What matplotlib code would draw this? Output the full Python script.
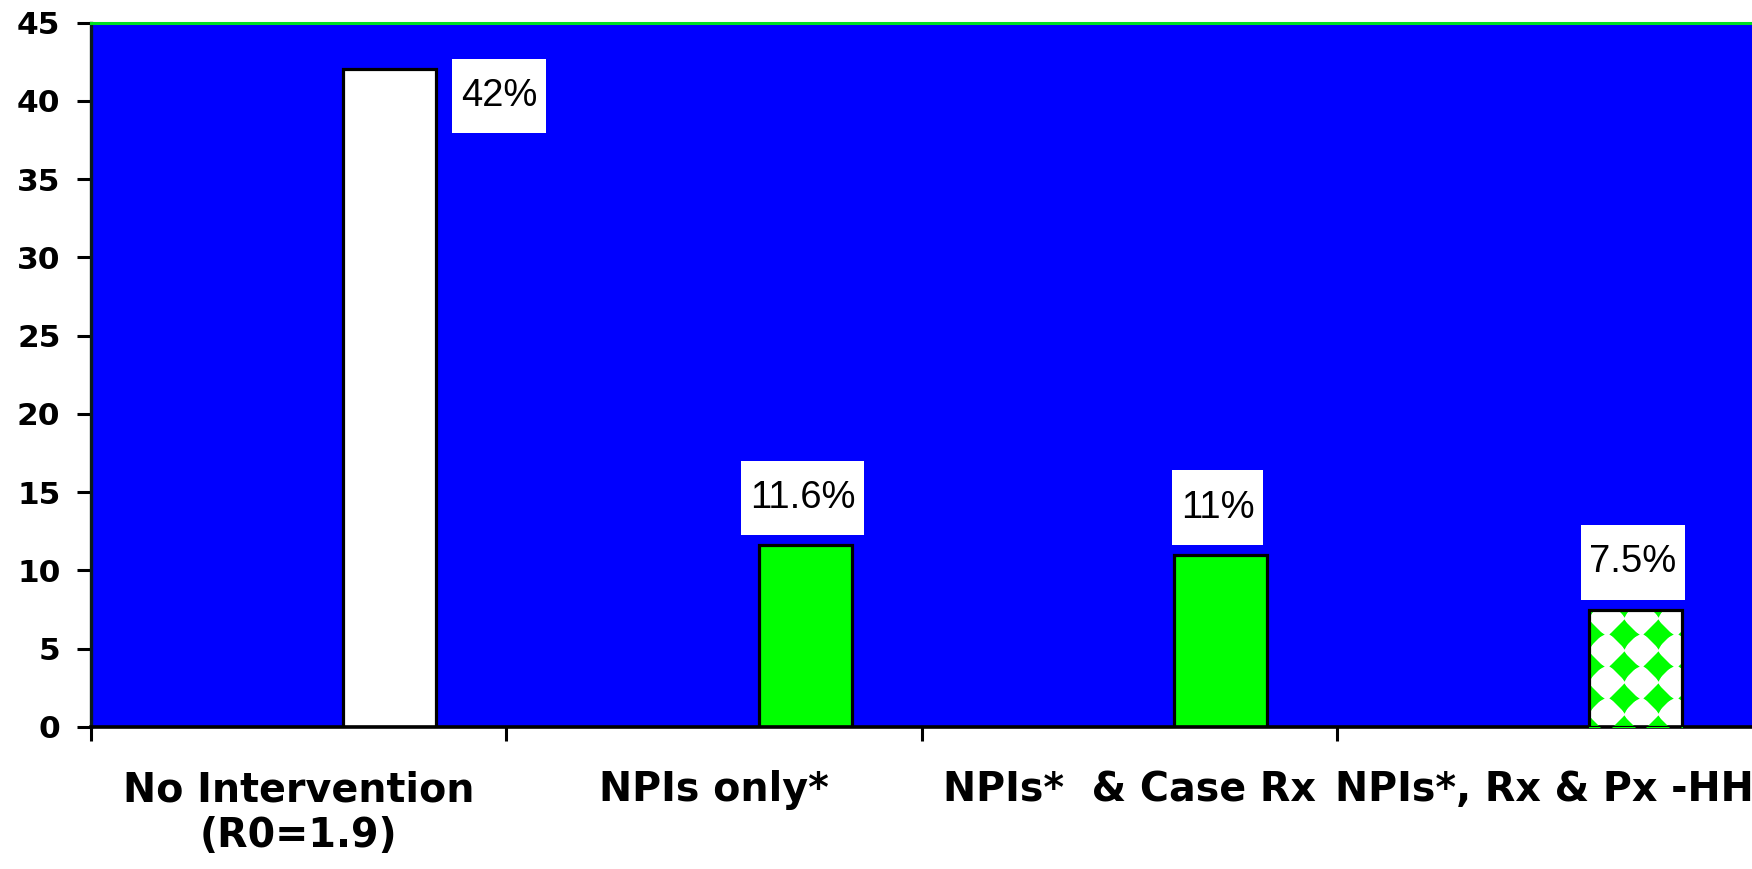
import matplotlib
matplotlib.use("Agg")
import matplotlib.pyplot as plt
import numpy as np

# Attack rate (%) for each intervention strategy
categories = [
    "No Intervention\n(R0=1.9)",
    "NPIs only*",
    "NPIs*  & Case Rx",
    "NPIs*, Rx & Px -HH",
]
attack_rates = [42, 11.6, 11, 7.5]
rate_labels = ["42%", "11.6%", "11%", "7.5%"]
bar_colors = ["white", "#00ff00", "#00ff00", "white"]

fig = plt.figure(figsize=(17.52, 8.69), dpi=100)
ax = fig.add_axes([91 / 1752, 1 - 727 / 869, 1 - 91 / 1752, (727 - 22.5) / 869])
ax.set_facecolor("#0000ff")

x = np.arange(len(categories))
bar_x = x + 0.22
bar_w = 0.224

bars = ax.bar(bar_x, attack_rates, width=bar_w, color=bar_colors,
              edgecolor="none", zorder=2)

# diamond pattern inside the last bar
last = bars[-1]
left = last.get_x()
cols = left + np.arange(4) * 0.083
rows = np.arange(-0.19, attack_rates[-1] + 2.5, 2.04)
px, py = np.meshgrid(cols, rows)
for marker, size in [((4, 1, 0), 22), ("D", 14)]:
    pts = ax.plot(px.ravel(), py.ravel(), linestyle="none", marker=marker,
                  markersize=size, color="#00ff00", markeredgewidth=0,
                  zorder=3)[0]
    pts.set_clip_path(last)

# black outlines on top
ax.bar(bar_x, attack_rates, width=bar_w, fill=False, edgecolor="black",
       linewidth=2.3, zorder=4)

# value labels in white boxes
box = dict(boxstyle="square,pad=0.23", mutation_aspect=2.2, fc="white", ec="none")
for i, (bx, val, lbl) in enumerate(zip(bar_x, attack_rates, rate_labels)):
    if i == 0:
        ax.annotate(lbl, xy=(bx + bar_w / 2, val), xytext=(45, -19),
                    textcoords="offset points", ha="center", va="center",
                    fontsize=27.5, family="Liberation Sans", bbox=box, zorder=5)
    else:
        ax.annotate(lbl, xy=(bx, val), xytext=(-2, 34),
                    textcoords="offset points", ha="center", va="center",
                    fontsize=27.5, family="Liberation Sans", bbox=box, zorder=5)

ax.set_xlim(-0.5, 3.5)
ax.set_ylim(0, 45)

ax.set_xticks(np.arange(-0.5, 3.5, 1.0))
ax.set_xticklabels([])
ax.set_xticks(x, minor=True)
ax.set_xticklabels(categories, minor=True, fontsize=28.5,
                   fontweight="bold", family="DejaVu Sans", linespacing=1.2)
ax.tick_params(axis="x", which="major", length=10, width=2.2, direction="out")
ax.tick_params(axis="x", which="minor", length=0, pad=31)

ax.set_yticks(range(0, 46, 5))
ax.set_yticklabels([str(v) for v in range(0, 46, 5)], fontsize=22.5,
                   fontweight="bold", family="DejaVu Sans")
ax.tick_params(axis="y", length=10, width=2.2, direction="out", pad=12)

ax.spines["right"].set_visible(False)
ax.spines["top"].set_color("#00e020")
ax.spines["top"].set_linewidth(2.2)
ax.spines["left"].set_color("#0a1a1a")
ax.spines["left"].set_linewidth(2.4)
ax.spines["bottom"].set_color("black")
ax.spines["bottom"].set_linewidth(2.6)

fig.savefig("out.png", dpi=100)
